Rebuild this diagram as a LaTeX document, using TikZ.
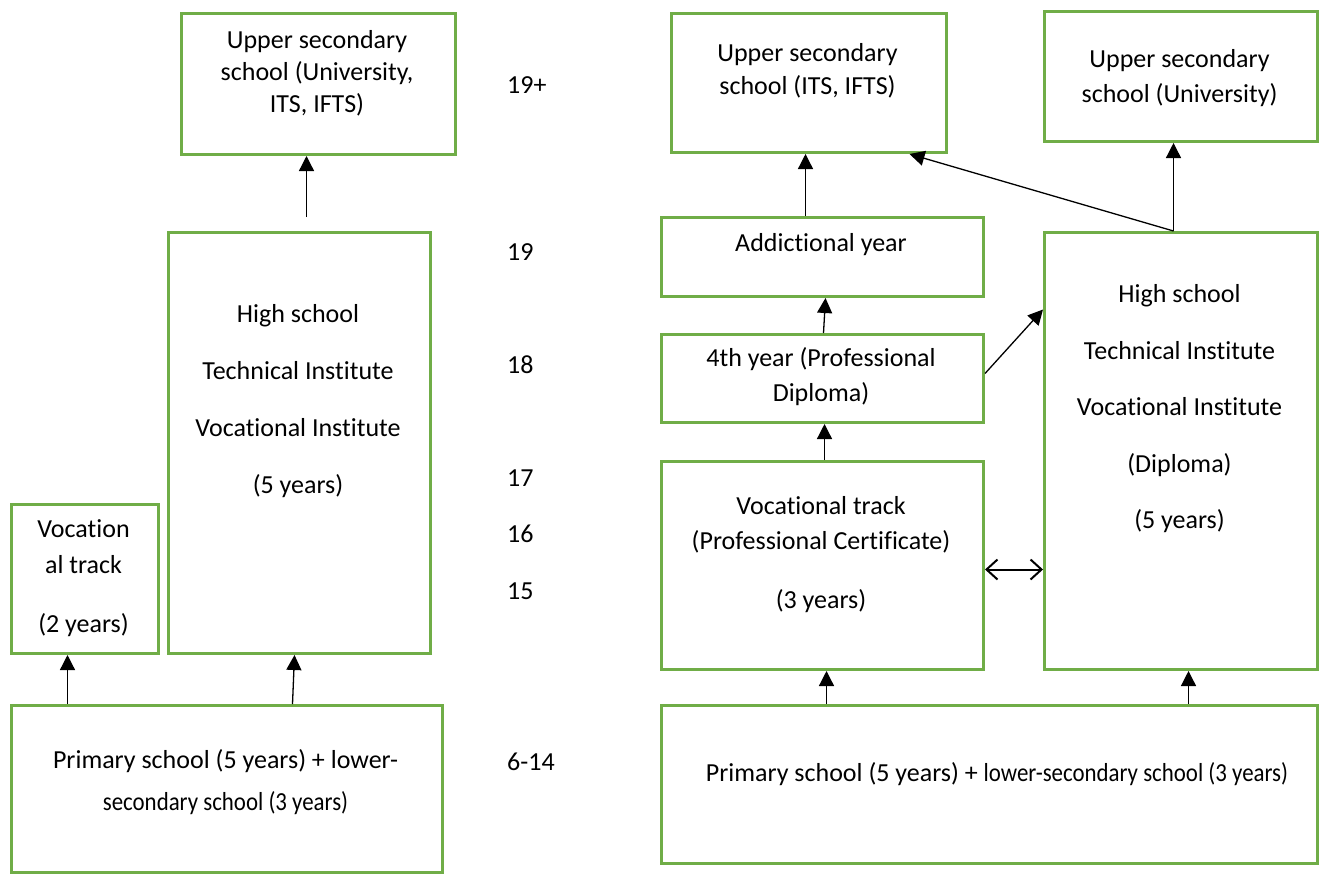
\documentclass[tikz,border=0pt]{standalone}
\usepackage{fontspec}
\setmainfont{Carlito}[Ligatures=NoCommon]
\newfontfamily\narrowfont{Carlito}[FakeStretch=0.88, Ligatures=NoCommon]
\usetikzlibrary{arrows.meta}
\definecolor{boxgreen}{HTML}{70AD47}

\begin{document}
\begin{tikzpicture}[x=1pt, y=-1pt,%
	box/.style={draw=boxgreen, line width=3pt, inner sep=0pt, anchor=north west},
	txt/.style={inner sep=0pt, align=center, font=\fontsize{26}{33}\selectfont},
	age/.style={inner sep=0pt, anchor=west, font=\fontsize{26}{32}\selectfont},
	arr/.style={-{Triangle[length=15pt, width=15pt]}, line width=1.3pt},
	dbl/.style={{Straight Barb[length=11pt, width=20pt]}-{Straight Barb[length=11pt, width=20pt]}, line width=2pt}]
	\useasboundingbox (0,0) rectangle (1343,873);

	% before the reform
	\node[box, minimum width=274pt, minimum height=141pt] (A) at (180,12) {};
	\node[box, minimum width=262pt, minimum height=421pt] (B) at (167,231) {};
	\node[box, minimum width=147pt, minimum height=149pt] (C) at (10,503) {};
	\node[box, minimum width=431pt, minimum height=167pt] (D) at (10,704) {};

	\node[txt, font=\fontsize{26}{32}\selectfont] (At) at (317,73) {Upper secondary\\school (University,\\ITS, IFTS)};
	\node[txt, font=\fontsize{26}{57}\selectfont] (Bt) at (298,401) {High school\\Technical Institute\\Vocational Institute\\(5 years)};
	\node[txt, font=\fontsize{26}{36}\selectfont] (Ct) at (83.5,578.5) {Vocation\\al track\\[23pt](2 years)};
	\node[txt, font=\fontsize{26}{42}\selectfont] (Dt) at (225.5,782) {Primary school (5 years) + lower-\\{\narrowfont secondary school (3 years)}};

	% ages
	\node[age] (a19p) at (507,85) {19+};
	\node[age] (a19) at (507,252) {19};
	\node[age] (a18) at (507,365) {18};
	\node[age] (a17) at (507,478) {17};
	\node[age] (a16) at (507,534) {16};
	\node[age] (a15) at (507,591) {15};
	\node[age] (a614) at (507,762) {6-14};

	% after the reform
	\node[box, minimum width=275pt, minimum height=139pt] (E) at (670,12) {};
	\node[box, minimum width=273pt, minimum height=130pt] (F) at (1043,10) {};
	\node[box, minimum width=322pt, minimum height=79pt] (G) at (660,216) {};
	\node[box, minimum width=322pt, minimum height=88pt] (H) at (660,333) {};
	\node[box, minimum width=322pt, minimum height=208pt] (I) at (660,460) {};
	\node[box, minimum width=273pt, minimum height=437pt] (J) at (1043,231) {};
	\node[box, minimum width=656pt, minimum height=158pt] (K) at (660,704) {};

	\node[txt] (Et) at (807.5,70.5) {Upper secondary\\school (ITS, IFTS)};
	\node[txt, font=\fontsize{26}{35}\selectfont] (Ft) at (1179.5,78.5) {Upper secondary\\school (University)};
	\node[txt] (Gt) at (821,245) {Addictional year};
	\node[txt, font=\fontsize{26}{35}\selectfont] (Ht) at (821,376.5) {4th year (Professional\\Diploma)};
	\node[txt, font=\fontsize{26}{35}\selectfont] (It) at (821,555) {Vocational track\\(Professional Certificate)\\[24pt](3 years)};
	\node[txt, font=\fontsize{26}{56.5}\selectfont] (Jt) at (1179.5,409) {High school\\Technical Institute\\Vocational Institute\\(Diploma)\\(5 years)};
	\node[txt] (Kt) at (997,774) {Primary school (5 years) + {\narrowfont lower-secondary school (3 years)}};

	% connectors
	\draw[arr] ([xshift=7pt, yshift=14pt]B.north) -- ([xshift=-12pt]A.south);
	\draw[arr] ([xshift=-159.5pt]D.north) -- ([xshift=-17.5pt]C.south);
	\draw[arr] ([xshift=65.5pt]D.north) -- ([xshift=-5pt]B.south);

	\draw[arr] ([xshift=-17pt]G.north) -- ([xshift=-3.5pt]E.south);
	\draw[arr] ([xshift=1pt]H.north) -- ([xshift=3pt]G.south);
	\draw[arr] ([xshift=2pt]I.north) -- ([xshift=2pt]H.south);
	\draw[arr] ([xshift=-163pt]K.north) -- ([xshift=4pt]I.south);
	\draw[arr] ([xshift=199pt]K.north) -- ([xshift=7.5pt]J.south);
	\draw[arr] ([xshift=-7.5pt]J.north) -- ([xshift=-7.5pt]F.south);
	\draw[arr] ([xshift=-7.5pt]J.north) -- ([xshift=100.5pt]E.south);
	\draw[arr] ([yshift=5pt]H.east) -- ([yshift=141.5pt]J.west);
	\draw[dbl] ([yshift=-4pt]I.east) -- ([yshift=-4pt]I.east -| J.west);
\end{tikzpicture}
\end{document}
